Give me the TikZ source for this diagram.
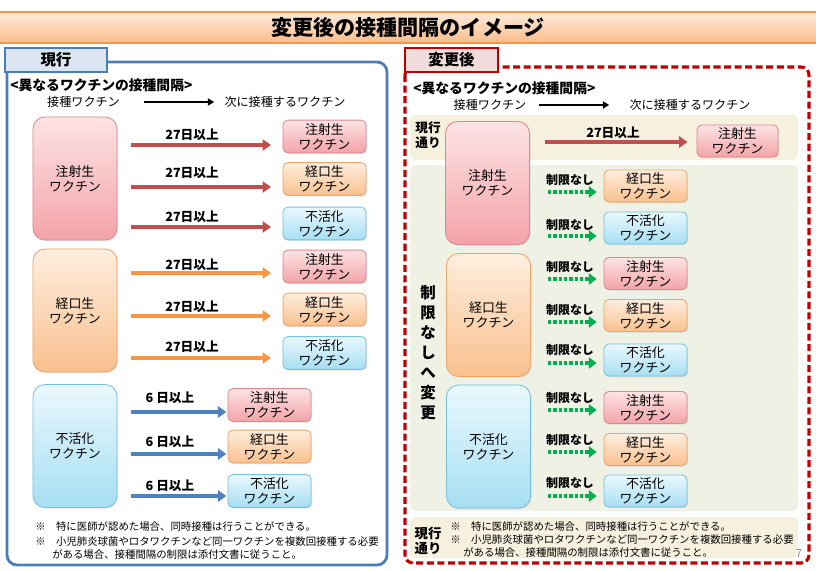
\documentclass[tikz,border=0pt]{standalone}
\usepackage{fontspec}
\setmainfont{Noto Sans CJK JP}
\usepackage{xcolor}
\usetikzlibrary{arrows.meta, shadows, positioning}
\definecolor{injtop}{HTML}{FDE3E4}
\definecolor{injbot}{HTML}{F3A3A8}
\definecolor{injline}{HTML}{D98A8E}
\definecolor{oratop}{HTML}{FEEEDE}
\definecolor{orabot}{HTML}{F9C08E}
\definecolor{oraline}{HTML}{EDA66A}
\definecolor{inatop}{HTML}{EAF8FD}
\definecolor{inabot}{HTML}{A6DEF2}
\definecolor{inaline}{HTML}{74C2DE}
\definecolor{arrred}{HTML}{C0504D}
\definecolor{arrora}{HTML}{F79646}
\definecolor{arrblue}{HTML}{4F81BD}
\definecolor{arrgreen}{HTML}{00B050}
\definecolor{paneblue}{HTML}{4A7EBB}
\definecolor{tabblue}{HTML}{DCE6F2}
\definecolor{panered}{HTML}{C00000}
\definecolor{tabred}{HTML}{F2DCDB}
\definecolor{beige}{HTML}{F6F0DF}
\definecolor{greygreen}{HTML}{EEF1E4}
\definecolor{titletop}{HTML}{FDEBDB}
\definecolor{titlebot}{HTML}{F9BC8A}

\begin{document}
\begin{tikzpicture}[x=0.025cm, y=-0.025cm]
            \tikzset{
              bigbox/.style = {rounded corners=0.3cm, minimum width=2.1cm, minimum height=3.075cm, inner sep=0pt, align=center, font=\fontsize{9.2}{10.8}\selectfont, drop shadow={opacity=0.2, shadow xshift=0.8pt, shadow yshift=-0.8pt}},
              smallbox/.style = {rounded corners=0.12cm, minimum width=2.075cm, minimum height=0.82cm, inner sep=0pt, align=center, font=\fontsize{9.2}{10.8}\selectfont, drop shadow={opacity=0.2, shadow xshift=0.8pt, shadow yshift=-0.8pt}},
              inj/.style = {draw=injline, line width=0.6pt, top color=injtop, bottom color=injbot},
              ora/.style = {draw=oraline, line width=0.6pt, top color=oratop, bottom color=orabot},
              ina/.style = {draw=inaline, line width=0.6pt, top color=inatop, bottom color=inabot},
              daytext/.style = {inner sep=0pt, font=\bfseries\fontsize{9}{11}\selectfont},
              freetext/.style = {inner sep=0pt, font=\bfseries\fontsize{8.5}{11}\selectfont},
              headtext/.style = {inner sep=0pt, anchor=west, font=\bfseries\fontsize{9.8}{11}\selectfont},
              legtext/.style = {inner sep=0pt, font=\fontsize{8.6}{11}\selectfont},
              notetext/.style = {inner sep=0pt, anchor=west, font=\fontsize{7.4}{9}\selectfont},
              redarr/.style = {-{Triangle[length=6pt,width=8pt]}, line width=2.2pt, draw=arrred},
              oraarr/.style = {-{Triangle[length=6pt,width=8pt]}, line width=2.2pt, draw=arrora},
              bluearr/.style = {-{Triangle[length=6pt,width=8pt]}, line width=2.2pt, draw=arrblue},
              dotarr/.style = {-{Triangle[length=5.5pt,width=8pt]}, line width=2.6pt, draw=arrgreen, dash pattern=on 2.4pt off 1.4pt},
              legarr/.style = {-{Triangle[length=4.5pt,width=5pt]}, line width=1.1pt, draw=black}
            }
            \useasboundingbox (0,0) rectangle (816,571);
            % title
            \node[draw=arrora, line width=0.8pt, top color=titletop, bottom color=titlebot, minimum width=20.4cm, minimum height=0.775cm, inner sep=0pt, font=\bfseries\fontsize{15}{18}\selectfont] (title) at (408,27.5) {変更後の接種間隔のイメージ};
            % panels
            \draw[paneblue, line width=2pt, rounded corners=0.25cm] (7,62) rectangle (387,565);
            \node[draw=paneblue, line width=1.6pt, fill=tabblue, minimum width=2.55cm, minimum height=0.6cm, inner sep=0pt, font=\bfseries\fontsize{11}{13}\selectfont] (curtab) at (56,60) {現行};
            \draw[panered, line width=2.2pt, dash pattern=on 5pt off 2.5pt, rounded corners=0.2cm] (405,67) rectangle (809,563);
            \fill[beige, rounded corners=0.15cm] (410,115) rectangle (798,160);
            \fill[greygreen, rounded corners=0.15cm] (410,165) rectangle (798,511);
            \fill[beige, rounded corners=0.15cm] (410,517) rectangle (798,558);
            \node[draw=panered, line width=1.6pt, fill=tabred, minimum width=2.325cm, minimum height=0.6cm, inner sep=0pt, font=\bfseries\fontsize{11}{13}\selectfont] (newtab) at (451.5,60) {変更後};

            % left vertices
            \node[headtext] (lhead) at (10,85) {<異なるワクチンの接種間隔>};
            \node[legtext] (lsrc) at (83.5,102) {接種ワクチン};
            \node[legtext] (ldst) at (285,102) {次に接種するワクチン};
            \node[bigbox, inj] (linj) at (75,178.5) {注射生\\ワクチン};
            \node[bigbox, ora] (lora) at (75,310.5) {経口生\\ワクチン};
            \node[bigbox, ina] (lina) at (75,446) {不活化\\ワクチン};
            \node[smallbox, inj] (linj1) at (324.5,136.5) {注射生\\ワクチン};
            \node[smallbox, ora] (linj2) at (324.5,179) {経口生\\ワクチン};
            \node[smallbox, ina] (linj3) at (324.5,223.5) {不活化\\ワクチン};
            \node[smallbox, inj] (lora1) at (324.5,266.5) {注射生\\ワクチン};
            \node[smallbox, ora] (lora2) at (324.5,309.5) {経口生\\ワクチン};
            \node[smallbox, ina] (lora3) at (324.5,353) {不活化\\ワクチン};
            \node[smallbox, inj] (lina1) at (269.5,405) {注射生\\ワクチン};
            \node[smallbox, ora] (lina2) at (269.5,446.5) {経口生\\ワクチン};
            \node[smallbox, ina] (lina3) at (269.5,491) {不活化\\ワクチン};
            \node[daytext] (ld1) at (192,135) {27日以上};
            \node[daytext] (ld2) at (192,173) {27日以上};
            \node[daytext] (ld3) at (192,216.5) {27日以上};
            \node[daytext] (ld4) at (192,265) {27日以上};
            \node[daytext] (ld5) at (192,307) {27日以上};
            \node[daytext] (ld6) at (192,347) {27日以上};
            \node[daytext] (ld7) at (170,398) {6 日以上};
            \node[daytext] (ld8) at (170,441.5) {6 日以上};
            \node[daytext] (ld9) at (170,485.5) {6 日以上};
            \coordinate (la1) at (0,145);
            \coordinate (la2) at (0,187);
            \coordinate (la3) at (0,227);
            \coordinate (la4) at (0,273);
            \coordinate (la5) at (0,316);
            \coordinate (la6) at (0,358);
            \coordinate (la7) at (0,412);
            \coordinate (la8) at (0,454);
            \coordinate (la9) at (0,496);
            \node[notetext] (ln1) at (35,527) {※　特に医師が認めた場合、同時接種は行うことができる。};
            \node[notetext] (ln2) at (35,542) {※　小児肺炎球菌やロタワクチンなど同一ワクチンを複数回接種する必要};
            \node[notetext] (ln3) at (52,555) {がある場合、接種間隔の制限は添付文書に従うこと。};

            % right vertices
            \node[headtext] (rhead) at (413,88) {<異なるワクチンの接種間隔>};
            \node[legtext] (rsrc) at (490,105) {接種ワクチン};
            \node[legtext] (rdst) at (690,105) {次に接種するワクチン};
            \node[freetext, align=center, font=\bfseries\fontsize{9}{10.6}\selectfont] (rkeep1) at (428,135) {現行\\通り};
            \node[freetext, align=center, font=\bfseries\fontsize{9.5}{11}\selectfont] (rkeep2) at (428,541) {現行\\通り};
            \node[freetext, align=center, font=\bfseries\fontsize{11}{14.2}\selectfont] (rfree) at (428,353) {制\\限\\な\\し\\へ\\変\\更};
            \node[bigbox, inj] (rinj) at (487.5,183) {注射生\\ワクチン};
            \node[bigbox, ora] (rora) at (488.5,315) {経口生\\ワクチン};
            \node[bigbox, ina] (rina) at (488.5,446.5) {不活化\\ワクチン};
            \node[smallbox, inj, minimum width=2.025cm, minimum height=0.8cm] (rinj0) at (737.5,141) {注射生\\ワクチン};
            \node[smallbox, ora, minimum height=0.8cm] (rinj2) at (645.5,186) {経口生\\ワクチン};
            \node[smallbox, ina, minimum height=0.8cm] (rinj3) at (645.5,228) {不活化\\ワクチン};
            \node[smallbox, inj, minimum height=0.8cm] (rora1) at (645.5,273.5) {注射生\\ワクチン};
            \node[smallbox, ora, minimum height=0.8cm] (rora2) at (645.5,315.5) {経口生\\ワクチン};
            \node[smallbox, ina, minimum height=0.8cm] (rora3) at (645.5,360) {不活化\\ワクチン};
            \node[smallbox, inj, minimum height=0.8cm] (rina1) at (645.5,407.5) {注射生\\ワクチン};
            \node[smallbox, ora, minimum height=0.8cm] (rina2) at (645.5,449.5) {経口生\\ワクチン};
            \node[smallbox, ina, minimum height=0.8cm] (rina3) at (645.5,491) {不活化\\ワクチン};
            \node[daytext] (rd0) at (613,133) {27日以上};
            \node[freetext] (rf2) at (570,180) {制限なし};
            \node[freetext] (rf3) at (570,225) {制限なし};
            \node[freetext] (rf4) at (570,267) {制限なし};
            \node[freetext] (rf5) at (570,310) {制限なし};
            \node[freetext] (rf6) at (570,350) {制限なし};
            \node[freetext] (rf7) at (570,398) {制限なし};
            \node[freetext] (rf8) at (570,440) {制限なし};
            \node[freetext] (rf9) at (570,483) {制限なし};
            \coordinate (ra0) at (0,142);
            \coordinate (ra2) at (0,192);
            \coordinate (ra3) at (0,236);
            \coordinate (ra4) at (0,279);
            \coordinate (ra5) at (0,322);
            \coordinate (ra6) at (0,363);
            \coordinate (ra7) at (0,410);
            \coordinate (ra8) at (0,452);
            \coordinate (ra9) at (0,496);
            \node[notetext] (rn1) at (450,527) {※　特に医師が認めた場合、同時接種は行うことができる。};
            \node[notetext] (rn2) at (450,540) {※　小児肺炎球菌やロタワクチンなど同一ワクチンを複数回接種する必要};
            \node[notetext] (rn3) at (463,553) {がある場合、接種間隔の制限は添付文書に従うこと。};
            \node[inner sep=0pt, text=black!45, font=\fontsize{8}{9}\selectfont] (pageno) at (799,553) {7};

            %edges
            \draw[legarr, shorten <=0.6cm, shorten >=0.25cm] (lsrc.east) -- (ldst.west);
            \draw[legarr, shorten <=0.32cm, shorten >=0.5cm] (rsrc.east) -- (rdst.west);
            \draw[redarr, shorten <=0.35cm, shorten >=0.29cm] (linj.east |- la1) -- (linj1.west |- la1);
            \draw[redarr, shorten <=0.35cm, shorten >=0.29cm] (linj.east |- la2) -- (linj2.west |- la2);
            \draw[redarr, shorten <=0.35cm, shorten >=0.29cm] (linj.east |- la3) -- (linj3.west |- la3);
            \draw[oraarr, shorten <=0.35cm, shorten >=0.29cm] (lora.east |- la4) -- (lora1.west |- la4);
            \draw[oraarr, shorten <=0.35cm, shorten >=0.29cm] (lora.east |- la5) -- (lora2.west |- la5);
            \draw[oraarr, shorten <=0.35cm, shorten >=0.29cm] (lora.east |- la6) -- (lora3.west |- la6);
            \draw[bluearr, shorten <=0.35cm, shorten >=0.03cm] (lina.east |- la7) -- (lina1.west |- la7);
            \draw[bluearr, shorten <=0.35cm, shorten >=0.03cm] (lina.east |- la8) -- (lina2.west |- la8);
            \draw[bluearr, shorten <=0.35cm, shorten >=0.03cm] (lina.east |- la9) -- (lina3.west |- la9);
            \draw[redarr, shorten <=0.375cm, shorten >=0.225cm] (rinj.east |- ra0) -- (rinj0.west |- ra0);
            \draw[dotarr, shorten <=0.45cm, shorten >=0.175cm] (rinj.east |- ra2) -- (rinj2.west |- ra2);
            \draw[dotarr, shorten <=0.45cm, shorten >=0.175cm] (rinj.east |- ra3) -- (rinj3.west |- ra3);
            \draw[dotarr, shorten <=0.425cm, shorten >=0.175cm] (rora.east |- ra4) -- (rora1.west |- ra4);
            \draw[dotarr, shorten <=0.425cm, shorten >=0.175cm] (rora.east |- ra5) -- (rora2.west |- ra5);
            \draw[dotarr, shorten <=0.425cm, shorten >=0.175cm] (rora.east |- ra6) -- (rora3.west |- ra6);
            \draw[dotarr, shorten <=0.425cm, shorten >=0.175cm] (rina.east |- ra7) -- (rina1.west |- ra7);
            \draw[dotarr, shorten <=0.425cm, shorten >=0.175cm] (rina.east |- ra8) -- (rina2.west |- ra8);
            \draw[dotarr, shorten <=0.425cm, shorten >=0.175cm] (rina.east |- ra9) -- (rina3.west |- ra9);
        \end{tikzpicture}
\end{document}
